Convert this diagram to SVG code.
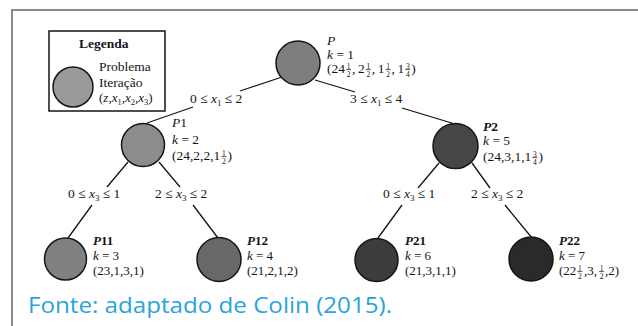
<svg xmlns="http://www.w3.org/2000/svg" width="638" height="326" viewBox="0 0 638 326">
<style>
.t{font-family:"Liberation Serif","Times New Roman",serif;font-size:13.5px;fill:#151515}
.s{font-family:"Liberation Serif","Times New Roman",serif;font-size:13px;fill:#151515}
.i{font-style:italic}
.b{font-weight:bold}
.sub{font-size:9px}
.fr{font-family:"Liberation Serif","Times New Roman",serif;font-size:7.5px;fill:#151515;text-anchor:middle}
.bar{stroke:#151515;stroke-width:0.7}
.n{stroke:#151515;stroke-width:1.5}
.e{stroke:#151515;stroke-width:1.3;fill:none}
.src{font-family:"Open Sans","Liberation Sans",sans-serif;font-size:21px;fill:#2aa3dc}
</style>
<rect width="638" height="326" fill="#fff"/>
<path d="M12 326V10H638" fill="none" stroke="#8a8a8a" stroke-width="2"/>

<g id="legend">
<rect x="49" y="31" width="116" height="80" fill="#fff" stroke="#151515" stroke-width="1.5"/>
<text class="t b" x="79" y="48" font-size="13">Legenda</text>
<circle class="n" cx="73" cy="87" r="20" fill="#9a9a9a"/>
<text class="t" x="99" y="71">Problema</text>
<text class="t" x="99" y="87">Iteração</text>
<text class="s" x="99" y="102">(<tspan class="i">z</tspan>,<tspan class="i">x</tspan><tspan font-size="8.5" dy="2.5">1</tspan><tspan dy="-2.5">,</tspan><tspan class="i">x</tspan><tspan font-size="8.5" dy="2.5">2</tspan><tspan dy="-2.5">,</tspan><tspan class="i">x</tspan><tspan font-size="8.5" dy="2.5">3</tspan><tspan dy="-2.5">)</tspan></text>
</g>

<g id="connectors">
<line class="e" x1="282" y1="77" x2="240" y2="91"/>
<line class="e" x1="193" y1="107" x2="147" y2="123"/>
<line class="e" x1="315" y1="80" x2="355" y2="92"/>
<line class="e" x1="402" y1="108" x2="455" y2="124"/>
<line class="e" x1="128" y1="162" x2="107" y2="187"/>
<line class="e" x1="159" y1="162" x2="180" y2="187"/>
<line class="e" x1="439" y1="163" x2="418" y2="188"/>
<line class="e" x1="472" y1="163" x2="490" y2="188"/>
<line class="e" x1="92" y1="205" x2="68" y2="238"/>
<line class="e" x1="193" y1="205" x2="218" y2="238"/>
<line class="e" x1="402" y1="205" x2="378" y2="238"/>
<line class="e" x1="505" y1="205" x2="532" y2="238"/>
<text class="t" x="190" y="103">0 ≤ <tspan class="i">x</tspan><tspan class="sub" dy="3">1</tspan><tspan dy="-3"> ≤ 2</tspan></text>
<text class="t" x="350" y="103">3 ≤ <tspan class="i">x</tspan><tspan class="sub" dy="3">1</tspan><tspan dy="-3"> ≤ 4</tspan></text>
<text class="t" x="68" y="198">0 ≤ <tspan class="i">x</tspan><tspan class="sub" dy="3">3</tspan><tspan dy="-3"> ≤ 1</tspan></text>
<text class="t" x="155" y="198">2 ≤ <tspan class="i">x</tspan><tspan class="sub" dy="3">3</tspan><tspan dy="-3"> ≤ 2</tspan></text>
<text class="t" x="383" y="198">0 ≤ <tspan class="i">x</tspan><tspan class="sub" dy="3">3</tspan><tspan dy="-3"> ≤ 1</tspan></text>
<text class="t" x="471" y="198">2 ≤ <tspan class="i">x</tspan><tspan class="sub" dy="3">3</tspan><tspan dy="-3"> ≤ 2</tspan></text>
</g>

<g id="P">
<circle class="n" cx="298" cy="63" r="22" fill="#7e7e7e"/>
<text class="t i" x="327" y="45">P</text>
<text class="t" x="327" y="58.5"><tspan class="i">k</tspan> = 1</text>
<text class="t" y="73"><tspan x="327">(24</tspan><tspan x="352">,</tspan><tspan x="358">2</tspan><tspan x="371.75">,</tspan><tspan x="377.75">1</tspan><tspan x="391.5">,</tspan><tspan x="397.5">1</tspan><tspan x="411.25">)</tspan></text>
<text class="fr" x="348.5" y="68.5">1</text><text class="fr" x="348.5" y="76.5">2</text><line class="bar" x1="346" y1="69.6" x2="351" y2="69.6"/>
<text class="fr" x="368.25" y="68.5">1</text><text class="fr" x="368.25" y="76.5">2</text><line class="bar" x1="365.75" y1="69.6" x2="370.75" y2="69.6"/>
<text class="fr" x="388" y="68.5">1</text><text class="fr" x="388" y="76.5">2</text><line class="bar" x1="385.5" y1="69.6" x2="390.5" y2="69.6"/>
<text class="fr" x="407.75" y="68.5">3</text><text class="fr" x="407.75" y="76.5">4</text><line class="bar" x1="405.25" y1="69.6" x2="410.25" y2="69.6"/>
</g>

<g id="P1">
<circle class="n" cx="143" cy="145" r="21.5" fill="#8c8c8c"/>
<text class="t" x="172" y="127"><tspan class="i">P</tspan>1</text>
<text class="t" x="172" y="144"><tspan class="i">k</tspan> = 2</text>
<text class="t" x="172" y="160">(24,2,2,1<tspan x="227.4">)</tspan></text>
<text class="fr" x="223.9" y="155.5">1</text><text class="fr" x="223.9" y="163.5">2</text><line class="bar" x1="221.4" y1="156.6" x2="226.4" y2="156.6"/>
</g>

<g id="P2">
<circle class="n" cx="455.5" cy="146" r="22.5" fill="#464646"/>
<text class="t b" x="483" y="131"><tspan class="i">P</tspan>2</text>
<text class="t" x="483" y="145"><tspan class="i">k</tspan> = 5</text>
<text class="t" x="483" y="161">(24,3,1,1<tspan x="538.4">)</tspan></text>
<text class="fr" x="534.9" y="156.5">3</text><text class="fr" x="534.9" y="164.5">4</text><line class="bar" x1="532.4" y1="157.6" x2="537.4" y2="157.6"/>
</g>

<g id="P11">
<circle class="n" cx="65.5" cy="259" r="21" fill="#808080"/>
<text class="s b" x="93" y="245"><tspan class="i">P</tspan>11</text>
<text class="s" x="93" y="260"><tspan class="i">k</tspan> = 3</text>
<text class="s" x="93" y="275">(23,1,3,1)</text>
</g>

<g id="P12">
<circle class="n" cx="219" cy="259.5" r="22" fill="#686868"/>
<text class="s b" x="247" y="245"><tspan class="i">P</tspan>12</text>
<text class="s" x="247" y="260"><tspan class="i">k</tspan> = 4</text>
<text class="s" x="247" y="275">(21,2,1,2)</text>
</g>

<g id="P21">
<circle class="n" cx="376.5" cy="260" r="21.5" fill="#3c3c3c"/>
<text class="s b" x="405" y="245"><tspan class="i">P</tspan>21</text>
<text class="s" x="405" y="260"><tspan class="i">k</tspan> = 6</text>
<text class="s" x="405" y="275">(21,3,1,1)</text>
</g>

<g id="P22">
<circle class="n" cx="531" cy="259" r="22" fill="#2a2a2a"/>
<text class="s b" x="559" y="245"><tspan class="i">P</tspan>22</text>
<text class="s" x="559" y="260"><tspan class="i">k</tspan> = 7</text>
<text class="s" y="275"><tspan x="559">(22</tspan><tspan x="584">,3,</tspan><tspan x="605">,2)</tspan></text>
<text class="fr" x="579.8" y="270.5">1</text><text class="fr" x="579.8" y="278.5">2</text><line class="bar" x1="577.3" y1="271.6" x2="582.3" y2="271.6"/>
<text class="fr" x="601.5" y="270.5">1</text><text class="fr" x="601.5" y="278.5">2</text><line class="bar" x1="599" y1="271.6" x2="604" y2="271.6"/>
</g>

<text class="src" x="28" y="313" textLength="364" lengthAdjust="spacingAndGlyphs">Fonte: adaptado de Colin (2015).</text>
</svg>
